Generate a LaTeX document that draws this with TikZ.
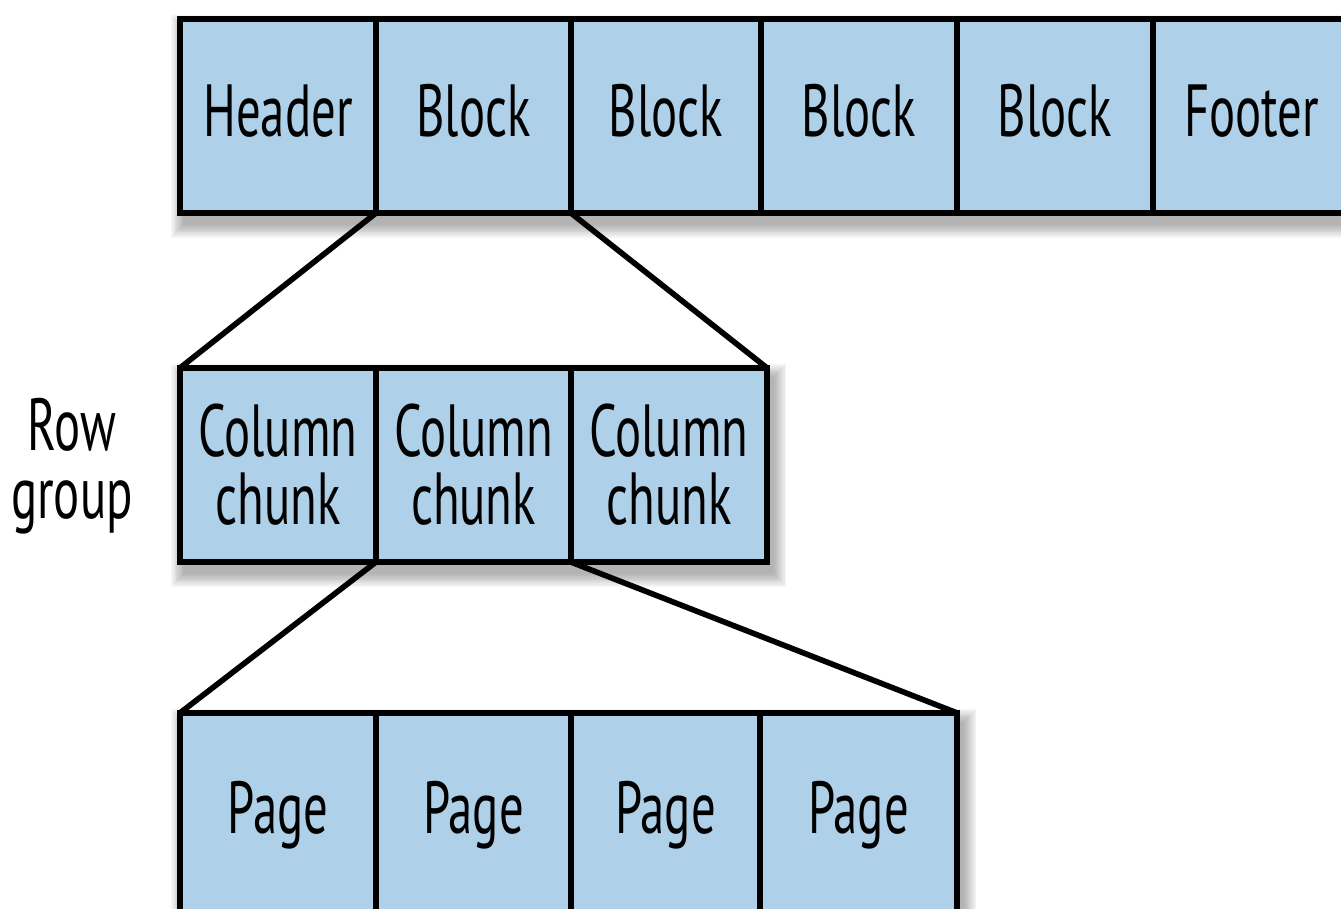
\documentclass[tikz,border=0pt]{standalone}
\usepackage{fontspec}
\setmainfont{PT Sans}[FakeStretch=0.66]
\usetikzlibrary{backgrounds}
\definecolor{cellblue}{RGB}{174,208,232}
\begin{document}
\begin{tikzpicture}[x=0.01cm,y=-0.01cm,
  cell/.style={draw=black, line width=1.7pt, fill=cellblue, rectangle,
    inner sep=0pt, outer sep=0pt, minimum height=1.94cm,
    font=\fontsize{21pt}{19.4pt}\selectfont, align=center},
  onel/.style={text height=15.6pt, text depth=4.2pt},
  conn/.style={draw=black, line width=1.6pt, line cap=round},
  lbl/.style={font=\fontsize{21pt}{19.4pt}\selectfont, align=center, inner sep=0pt},
  shade/.style={fill=black, opacity=0.045}]
\useasboundingbox (0,0) rectangle (1341,909);
\clip (0,0) rectangle (1341,909);
% top row
\node[cell, onel, minimum width=1.96cm] (h)  at (278,116)    {Header};
\node[cell, onel, minimum width=1.95cm] (b1) at (473.5,116)  {Block};
\node[cell, onel, minimum width=1.90cm] (b2) at (666,116)    {Block};
\node[cell, onel, minimum width=1.96cm] (b3) at (859,116)    {Block};
\node[cell, onel, minimum width=1.96cm] (b4) at (1055,116)   {Block};
\node[cell, onel, minimum width=1.97cm] (f)  at (1251.5,116) {Footer};
% middle row
\node[cell, minimum width=1.96cm] (c1) at (278,465)   {Column\\chunk};
\node[cell, minimum width=1.95cm] (c2) at (473.5,465) {Column\\chunk};
\node[cell, minimum width=1.96cm] (c3) at (669,465)   {Column\\chunk};
\node[lbl] (rg) at (72,466) {Row\\group};
% bottom row
\node[cell, onel, minimum width=1.96cm, minimum height=2.00cm] (p1) at (278,813)   {Page};
\node[cell, onel, minimum width=1.95cm, minimum height=2.00cm] (p2) at (473.5,813) {Page};
\node[cell, onel, minimum width=1.89cm, minimum height=2.00cm] (p3) at (665.5,813) {Page};
\node[cell, onel, minimum width=1.97cm, minimum height=2.00cm] (p4) at (858.5,813) {Page};
% shadows
\begin{scope}[on background layer]
\foreach \i in {1,...,8} {
  \fill[shade] ([xshift=-\i*0.5pt+1.5pt, yshift=\i*0.5pt-3pt]h.north west) rectangle ([xshift=\i*0.5pt+1.5pt, yshift=-\i*0.5pt-3pt]f.south east);
  \fill[shade] ([xshift=-\i*0.5pt+1.5pt, yshift=\i*0.5pt-3pt]c1.north west) rectangle ([xshift=\i*0.5pt+1.5pt, yshift=-\i*0.5pt-3pt]c3.south east);
  \fill[shade] ([xshift=-\i*0.5pt+1.5pt, yshift=\i*0.5pt-3pt]p1.north west) rectangle ([xshift=\i*0.5pt+1.5pt, yshift=-\i*0.5pt-3pt]p4.south east);
}
\end{scope}
% connectors
\draw[conn] (b1.south west) -- (c1.north west);
\draw[conn] (b2.south west) -- (c3.north east);
\draw[conn] (c2.south west) -- (p1.north west);
\draw[conn] (c3.south west) -- (p4.north east);
\end{tikzpicture}
\end{document}
